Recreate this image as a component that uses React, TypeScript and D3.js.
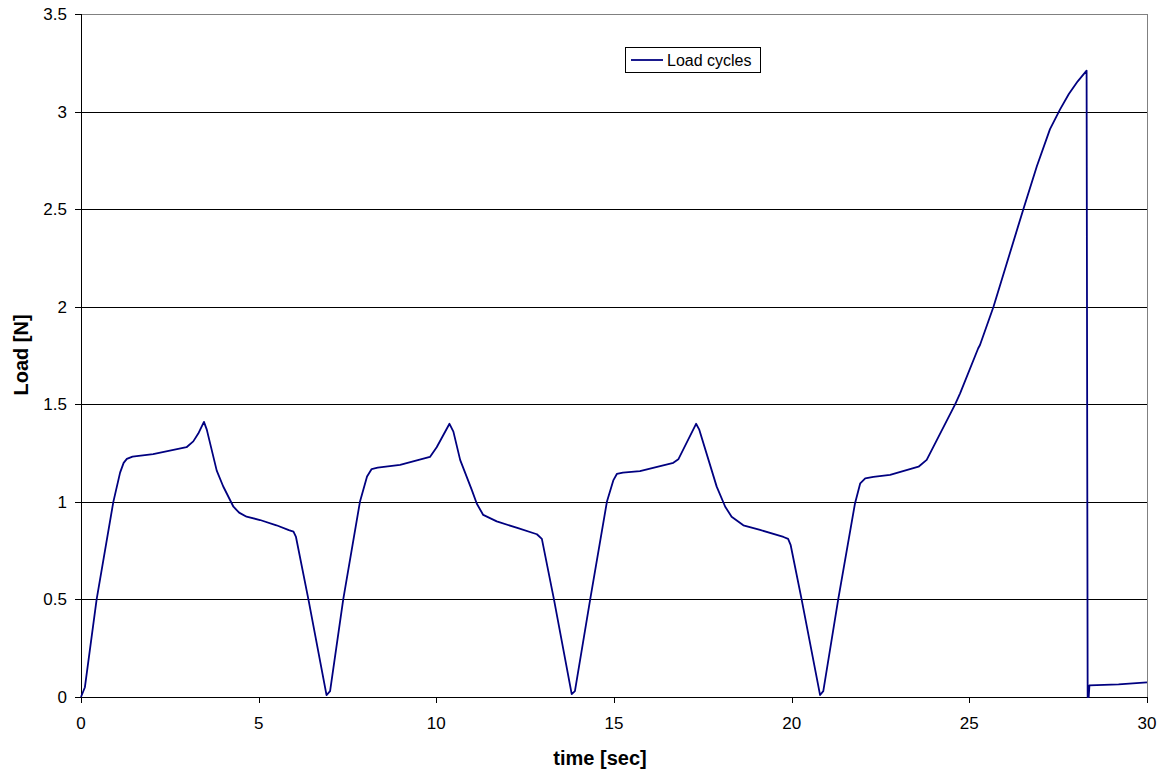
import React from "react";
import * as d3 from "d3";

const timeSec: number[] = [
  0, 0.11, 0.44, 0.91, 1.1, 1.2, 1.29, 1.45, 2.03, 2.97, 3.16, 3.3, 3.46, 3.54, 3.82, 4.0, 4.29, 4.45, 4.66, 5.04, 5.5, 5.85, 5.98, 6.05,
  6.4, 6.91, 7.01, 7.38, 7.85, 8.05, 8.18, 8.35, 8.98, 9.82, 10.01, 10.37, 10.48, 10.67, 11.0, 11.14, 11.32, 11.7,
  12.3, 12.83, 12.97, 13.31, 13.81, 13.9, 14.33, 14.8, 14.98, 15.08, 15.25, 15.73, 16.67, 16.81, 17.31, 17.4, 17.89,
  18.13, 18.31, 18.64, 19.11, 19.77, 19.9, 19.97, 20.28, 20.8, 20.89, 21.31, 21.78, 21.93, 22.07, 22.3, 22.77,
  23.57, 23.8, 24.6, 24.74, 25.25, 25.3, 25.68, 26.05, 26.52, 26.9, 27.27, 27.55, 27.8, 28.05, 28.3, 28.33, 28.36,
  28.38, 29.2, 30,
];
const loadN: number[] = [
  0, 0.05, 0.5, 1.0, 1.15, 1.2, 1.22, 1.232, 1.245, 1.28, 1.31, 1.35, 1.41, 1.37, 1.16, 1.08, 0.975, 0.945, 0.924, 0.907, 0.88, 0.855, 0.847, 0.82,
  0.5, 0.01, 0.03, 0.5, 1.0, 1.13, 1.168, 1.175, 1.19, 1.23, 1.28, 1.4, 1.36, 1.215, 1.06, 0.99, 0.933, 0.9,
  0.865, 0.834, 0.81, 0.5, 0.015, 0.03, 0.5, 1.0, 1.11, 1.143, 1.15, 1.158, 1.2, 1.218, 1.4, 1.37, 1.078,
  0.975, 0.924, 0.88, 0.856, 0.82, 0.81, 0.78, 0.5, 0.01, 0.03, 0.5, 0.99, 1.095, 1.12, 1.128, 1.138,
  1.18, 1.215, 1.5, 1.556, 1.787, 1.804, 2.0, 2.22, 2.5, 2.72, 2.91, 3.01, 3.09, 3.155, 3.21, 0.0, 0.0,
  0.06, 0.065, 0.075,
];
const xTicks: number[] = [0, 5, 10, 15, 20, 25, 30];
const yTicks: number[] = [0, 0.5, 1, 1.5, 2, 2.5, 3, 3.5];
const seriesName = "Load cycles";

const W = 1163;
const H = 771;
const L = 81, R = 1147, T = 14, B = 697;
const FONT = "'Liberation Sans', Arial, sans-serif";

export default function App() {
  const x = d3.scaleLinear().domain([0, 30]).range([L, R]);
  const y = d3.scaleLinear().domain([0, 3.5]).range([B, T]);
  const pts = timeSec.map((t, i) => [t, loadN[i]] as [number, number]);
  const line = d3.line<[number, number]>().x((d) => x(d[0])).y((d) => y(d[1]));
  return (
    <svg width={W} height={H} style={{ position: "absolute", left: 0, top: 0 }} fontFamily={FONT}>
      <rect x={0} y={0} width={W} height={H} fill="#fff" />
      {yTicks.filter((v) => v > 0 && v < 3.5).map((v) => (
        <line key={v} x1={L} x2={R} y1={Math.round(y(v)) + 0.5} y2={Math.round(y(v)) + 0.5} stroke="#000" strokeWidth={1} />
      ))}
      <line x1={L} x2={R} y1={T + 0.5} y2={T + 0.5} stroke="#808080" />
      <line x1={R + 0.5} x2={R + 0.5} y1={T} y2={B} stroke="#808080" />
      <line x1={L + 0.5} x2={L + 0.5} y1={T} y2={B} stroke="#000" />
      <line x1={L} x2={R + 1} y1={B + 0.5} y2={B + 0.5} stroke="#000" />
      {yTicks.map((v) => (
        <g key={"y" + v}>
          <line x1={L - 6} x2={L} y1={Math.round(y(v)) + 0.5} y2={Math.round(y(v)) + 0.5} stroke="#000" />
          <text x={67} y={y(v)} dy="0.35em" textAnchor="end" fontSize={17} fill="#000">{v}</text>
        </g>
      ))}
      {xTicks.map((v) => (
        <g key={"x" + v}>
          <line x1={Math.round(x(v)) + 0.5} x2={Math.round(x(v)) + 0.5} y1={B} y2={B + 6} stroke="#000" />
          <text x={x(v)} y={723} dy="0.35em" textAnchor="middle" fontSize={17} fill="#000">{v}</text>
        </g>
      ))}
      <path d={line(pts) || ""} fill="none" stroke="#000080" strokeWidth={1.8} strokeLinejoin="round" />
      <text x={600} y={758} dy="0.35em" textAnchor="middle" fontSize={20} fontWeight="bold">time [sec]</text>
      <text transform={`translate(21,355) rotate(-90)`} dy="0.35em" textAnchor="middle" fontSize={20} fontWeight="bold">Load [N]</text>
      <rect x={625.5} y={47.5} width={135} height={25} fill="#fff" stroke="#000" />
      <line x1={631} x2={663} y1={60} y2={60} stroke="#000080" strokeWidth={1.8} />
      <text x={667} y={60} dy="0.35em" fontSize={16}>{seriesName}</text>
    </svg>
  );
}
